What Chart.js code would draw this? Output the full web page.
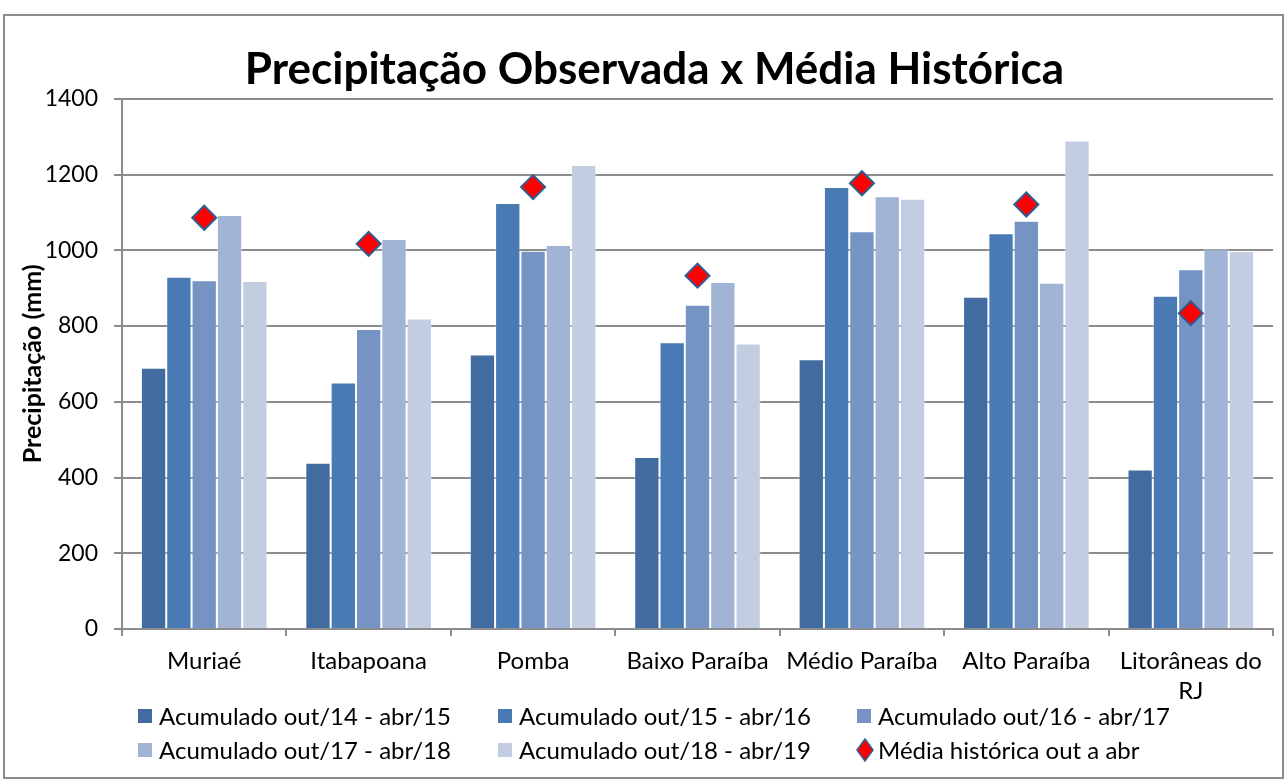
<!DOCTYPE html>
<html>
<head>
<meta charset="utf-8">
<script src="https://cdn.jsdelivr.net/npm/chart.js@4.4.0/dist/chart.umd.min.js"></script>
<style>
  body { margin: 0; background: #fff; }
  #wrap { position: relative; width: 1287px; height: 781px; }
</style>
</head>
<body>
<div id="wrap"><canvas id="chuvaChart" width="1287" height="781"></canvas></div>
<script>
// categorias (bacias)
const categories = ['Muriaé', 'Itabapoana', 'Pomba', 'Baixo Paraíba', 'Médio Paraíba', 'Alto Paraíba', ['Litorâneas do', 'RJ']];

// acumulados out-abr (mm)
const acum1415 = [690, 439, 725, 454, 712, 877, 421];
const acum1516 = [930, 651, 1125, 757, 1167, 1045, 880];
const acum1617 = [921, 792, 999, 856, 1050, 1078, 950];
const acum1718 = [1093, 1030, 1014, 916, 1143, 914, 1003];
const acum1819 = [919, 820, 1225, 754, 1136, 1290, 998];
const mediaHistorica = [1086, 1017, 1167, 933, 1177, 1121, 834];

const yTicks = [0, 200, 400, 600, 800, 1000, 1200, 1400];

const FONT = 'Lato';

// moldura cinza em volta do grafico
const borderPlugin = {
    id: 'moldura',
    beforeDraw(chart) {
        const ctx = chart.ctx;
        ctx.save();
        ctx.strokeStyle = '#8c8c8c';
        ctx.lineWidth = 2;
        ctx.strokeRect(4, 15, 1279, 763);
        ctx.restore();
    }
};

// legenda em 3 colunas x 2 linhas, como no Excel
const legendPlugin = {
    id: 'legendaExcel',
    afterDraw(chart) {
        const ctx = chart.ctx;
        const colX = [138, 498, 857];
        const rowY = [716, 750];
        ctx.save();
        ctx.font = '24px ' + FONT;
        ctx.textBaseline = 'middle';
        chart.data.datasets.forEach((ds, i) => {
            const x = colX[i % 3];
            const y = rowY[Math.floor(i / 3)];
            if (ds.type === 'line') {
                ctx.beginPath();
                ctx.moveTo(x + 8, y - 11);
                ctx.lineTo(x + 16, y);
                ctx.lineTo(x + 8, y + 11);
                ctx.lineTo(x, y);
                ctx.closePath();
                ctx.fillStyle = ds.backgroundColor;
                ctx.fill();
                ctx.strokeStyle = ds.borderColor;
                ctx.lineWidth = 1.5;
                ctx.stroke();
            } else {
                ctx.fillStyle = ds.backgroundColor;
                ctx.fillRect(x, y - 7, 14, 14);
            }
            ctx.fillStyle = '#000';
            ctx.fillText(ds.label, x + 21, y + 1);
        });
        ctx.restore();
    }
};

function barSet(label, data, color) {
    return {
        label: label,
        data: data,
        backgroundColor: color,
        borderColor: 'rgba(255,255,255,0.35)',
        borderWidth: 1,
        categoryPercentage: 0.77,
        barPercentage: 1.0,
        order: 1
    };
}

const ctx = document.getElementById('chuvaChart').getContext('2d');
const chart = new Chart(ctx, {
    type: 'bar',
    data: {
        labels: categories,
        datasets: [
            barSet('Acumulado out/14 - abr/15', acum1415, '#426ca0'),
            barSet('Acumulado out/15 - abr/16', acum1516, '#4a7ab4'),
            barSet('Acumulado out/16 - abr/17', acum1617, '#7594c4'),
            barSet('Acumulado out/17 - abr/18', acum1718, '#a2b4d5'),
            barSet('Acumulado out/18 - abr/19', acum1819, '#c3cde2'),
            {
                type: 'line',
                label: 'Média histórica out a abr',
                data: mediaHistorica,
                showLine: false,
                pointStyle: 'rectRot',
                pointRadius: 12,
                pointHoverRadius: 12,
                backgroundColor: '#ff0000',
                borderColor: '#2f5d8f',
                borderWidth: 2,
                order: 0
            }
        ]
    },
    options: {
        responsive: false,
        animation: false,
        layout: {
            // padding esquerdo so para centrar o titulo como no original
            padding: { left: 34, right: 12, top: 0, bottom: 0 }
        },
        plugins: {
            legend: { display: false },
            tooltip: { enabled: false },
            title: {
                display: true,
                text: 'Precipitação Observada x Média Histórica',
                color: '#000',
                font: { family: FONT, size: 44, weight: 'bold', lineHeight: 1.2 },
                padding: { top: 43, bottom: 3 }
            }
        },
        scales: {
            x: {
                grid: {
                    offset: true,
                    drawOnChartArea: false,
                    drawTicks: true,
                    tickLength: 7,
                    color: '#8c8c8c',
                    lineWidth: 2
                },
                border: { display: true, color: '#8c8c8c', width: 2 },
                ticks: {
                    color: '#000',
                    font: { family: FONT, size: 24, lineHeight: 1.25 },
                    padding: 10,
                    maxRotation: 0,
                    autoSkip: false
                },
                afterFit: s => { s.height = 152; }
            },
            y: {
                min: 0,
                max: 1400,
                afterBuildTicks: s => { s.ticks = yTicks.map(v => ({ value: v })); },
                grid: {
                    color: '#8c8c8c',
                    lineWidth: 2,
                    drawTicks: true,
                    tickLength: 8
                },
                border: { display: true, color: '#8c8c8c', width: 2 },
                ticks: {
                    color: '#000',
                    font: { family: FONT, size: 23 },
                    padding: 16,
                    callback: v => String(v)
                },
                title: {
                    display: true,
                    text: 'Precipitação (mm)',
                    color: '#000',
                    font: { family: FONT, size: 25, weight: 'bold' },
                    padding: { top: -16, bottom: 0 }
                },
                afterFit: s => { s.width = 88; }
            }
        }
    },
    plugins: [borderPlugin, legendPlugin]
});
</script>
</body>
</html>
